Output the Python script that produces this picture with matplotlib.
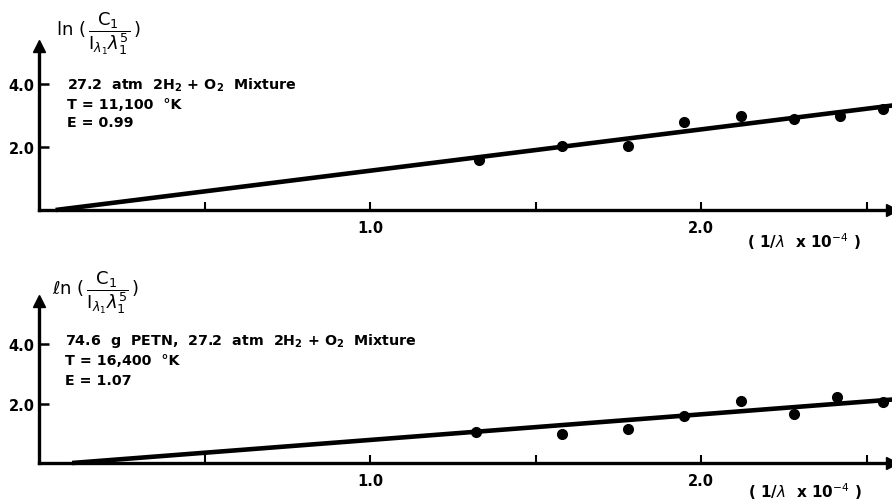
import matplotlib
matplotlib.use("Agg")
import matplotlib.pyplot as plt

# ---- data ----
top_x = [1.33, 1.58, 1.78, 1.95, 2.12, 2.28, 2.42, 2.55]
top_y = [1.59, 2.02, 2.04, 2.78, 2.99, 2.89, 2.99, 3.21]
top_fit_x = [0.05, 2.58]
top_fit_y = [0.0, 3.32]

bot_x = [1.32, 1.58, 1.78, 1.95, 2.12, 2.28, 2.41, 2.55]
bot_y = [1.06, 0.98, 1.15, 1.57, 2.08, 1.66, 2.21, 2.06]
bot_fit_x = [0.10, 2.58]
bot_fit_y = [0.0, 2.14]

x_ticks = [0.5, 1.0, 1.5, 2.0, 2.5]
x_ticklabels = ["", "1.0", "", "2.0", ""]
y_ticks = [2.0, 4.0]
y_ticklabels = ["2.0", "4.0"]

top_notes = ["27.2  atm  2H$_\\mathbf{2}$ + O$_\\mathbf{2}$  Mixture",
             "T = 11,100  °K",
             "E = 0.99"]
bot_notes = ["74.6  g  PETN,  27.2  atm  2H$_\\mathbf{2}$ + O$_\\mathbf{2}$  Mixture",
             "T = 16,400  °K",
             "E = 1.07"]
top_ylabel = (r"$\mathrm{ln}\ (\,\dfrac{\mathrm{C}_1}"
              r"{\mathrm{I}_{\lambda_1}\lambda_1^5}\,)$")
bot_ylabel = (r"$\ell\mathrm{n}\ (\,\dfrac{\mathrm{C}_1}"
              r"{\mathrm{I}_{\lambda_1}\lambda_1^5}\,)$")
xlabel = r"( 1/$\lambda$  x 10$^{-4}$ )"

W, H = 892, 502
fig = plt.figure(figsize=(W / 100, H / 100), dpi=100)
fig.patch.set_facecolor("white")


def make_panel(rect, xs, ys, fx, fy, ymax, notes, note_x, note_ys,
               ylabel, ylabel_pos, xlabel_pos):
    ax = fig.add_axes(rect)
    ax.set_xlim(0, 2.577)
    ax.set_ylim(0, ymax)
    for s in ["top", "right"]:
        ax.spines[s].set_visible(False)
    for s in ["left", "bottom"]:
        ax.spines[s].set_linewidth(2.4)
        ax.spines[s].set_color("black")
    ax.set_xticks(x_ticks)
    ax.set_xticklabels(x_ticklabels, fontsize=10.5, fontweight="bold")
    ax.set_yticks(y_ticks)
    ax.set_yticklabels(y_ticklabels, fontsize=10.5, fontweight="bold")
    ax.tick_params(axis="x", direction="in", length=6, width=1.5, pad=7)
    ax.tick_params(axis="y", direction="in", length=7, width=1.8, pad=3)
    ax.set_facecolor("white")
    # arrows at axis ends
    ax.plot(1, 0, marker=">", color="black", markersize=8,
            transform=ax.transAxes, clip_on=False)
    ax.plot(0, 1, marker="^", color="black", markersize=8,
            transform=ax.transAxes, clip_on=False)
    ax.plot(fx, fy, color="black", linewidth=3.3, solid_capstyle="butt",
            clip_on=False)
    ax.plot(xs, ys, "o", color="black", markersize=7, clip_on=False)
    for t, yy in zip(notes, note_ys):
        ax.text(note_x, yy, t, transform=ax.transAxes,
                fontsize=10.3, fontweight="bold", va="center", ha="left")
    fig.text(ylabel_pos[0] / W, 1 - ylabel_pos[1] / H, ylabel,
             fontsize=13, ha="left", va="center")
    fig.text(xlabel_pos[0] / W, 1 - xlabel_pos[1] / H, xlabel,
             fontsize=11, fontweight="bold", ha="left", va="center")
    return ax


top_ymax = (211 - 47) / 31.5
bot_ymax = (463 - 302) / 29.5
make_panel([39 / W, 1 - 211 / H, (892 - 39) / W, (211 - 47) / H],
           top_x, top_y, top_fit_x, top_fit_y, top_ymax, top_notes,
           0.033, [0.765, 0.649, 0.534],
           top_ylabel, (56, 34), (747, 242))
make_panel([39 / W, 1 - 464 / H, (892 - 39) / W, (464 - 302) / H],
           bot_x, bot_y, bot_fit_x, bot_fit_y, bot_ymax, bot_notes,
           0.030, [0.759, 0.636, 0.512],
           bot_ylabel, (52, 293), (748, 492))

fig.savefig("out.png", dpi=100, facecolor="white")
